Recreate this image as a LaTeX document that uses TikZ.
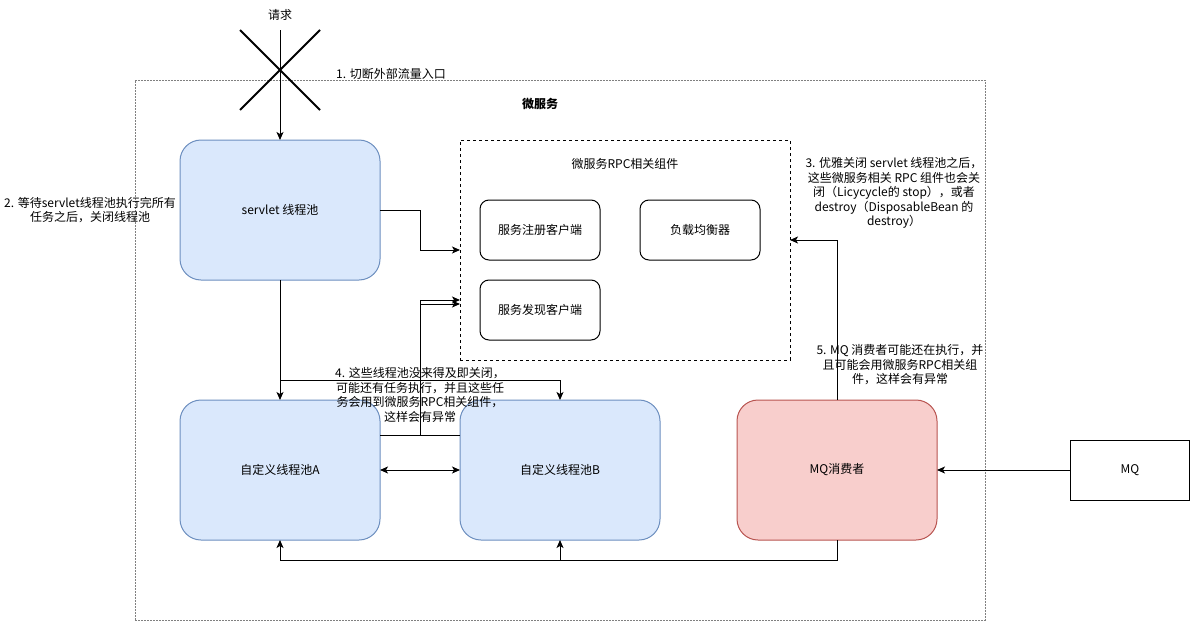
\documentclass[tikz,border=0pt]{standalone}
\usepackage{fontspec}
\setmainfont{Noto Sans CJK SC}
\usetikzlibrary{arrows.meta,positioning}
\definecolor{poolfill}{HTML}{DAE8FC}
\definecolor{pooldraw}{HTML}{6C8EBF}
\definecolor{mqfill}{HTML}{F8CECC}
\definecolor{mqdraw}{HTML}{B85450}

\begin{document}
\begin{tikzpicture}[x=1pt,y=-1pt,font=\fontsize{12}{14.5}\selectfont,
  pool/.style={draw=pooldraw,fill=poolfill,rounded corners=21pt,line width=1pt,
    minimum width=200pt,minimum height=140pt,outer sep=0pt},
  mqpool/.style={pool,draw=mqdraw,fill=mqfill},
  comp/.style={draw,rounded corners=9pt,line width=1pt,
    minimum width=120pt,minimum height=60pt,outer sep=0pt},
  note/.style={align=center,inner sep=0pt},
  arr/.style={line width=1pt,-{Stealth[length=8pt,width=7pt,inset=2pt]}},
  arrboth/.style={line width=1pt,{Stealth[length=8pt,width=7pt,inset=2pt]}-{Stealth[length=8pt,width=7pt,inset=2pt]}}]
  \useasboundingbox (0,0) rectangle (1191,621);

  %% outer service frame
  \node[draw=gray,dash pattern=on 2pt off 1pt,minimum width=850pt,minimum height=540pt,
    outer sep=0pt] (svc) at (560,350) {};
  \node[font=\fontsize{12}{14.5}\selectfont\bfseries] (svctitle) at (540,104) {微服务};

  %% incoming request, cut off
  \node (req) at (280,15) {请求};
  \coordinate (reqtop) at (280,30);
  \draw[line width=2pt] (240,30) -- (320,110);
  \draw[line width=2pt] (320,30) -- (240,110);
  \node[anchor=west,inner sep=0pt] (lbl1) at (336,74) {1. 切断外部流量入口};

  %% thread pools
  \node[pool] (servlet) at (280,210) {servlet 线程池};
  \node[pool] (poolA) at (280,470) {自定义线程池A};
  \node[pool] (poolB) at (560,470) {自定义线程池B};
  \node[mqpool] (consumer) at (837,470) {MQ消费者};
  \node[draw,line width=1pt,minimum width=119pt,minimum height=60pt,outer sep=0pt]
    (mq) at (1130,470) {MQ};

  %% RPC components
  \node[draw,dash pattern=on 3pt off 3pt,line width=1pt,minimum width=330pt,
    minimum height=220pt,outer sep=0pt] (rpc) at (625,250) {};
  \node (rpctitle) at (625,164) {微服务RPC相关组件};
  \node[comp] (reg) at (540,230) {服务注册客户端};
  \node[comp] (lb) at (700,230) {负载均衡器};
  \node[comp] (disc) at (540,310) {服务发现客户端};

  %% connectors
  \draw[arr] (reqtop) -- (servlet.north);
  \draw[arr] (servlet.east) -- ++(40,0) |- (rpc.west);
  \draw[arr] ([yshift=35pt]poolA.east) -- ++(40,0) |- ([yshift=-50pt]rpc.west);
  \draw[arr] ([yshift=35pt]poolB.west) -- ++(-40,0) |- ([yshift=-54pt]rpc.west);
  \draw[arr] (servlet.south) -- (poolA.north);
  \draw[arr] ([yshift=20pt]poolA.north) -| (poolB.north);
  \draw[arrboth] (poolA.east) -- (poolB.west);
  \draw[arr] (mq.west) -- (consumer.east);
  \draw[arr] (consumer.north) |- ([yshift=10pt]rpc.east);
  \draw[arr] (consumer.south) -- ++(0,20) -| (poolA.south);
  \draw[arr] (consumer.south) -- ++(0,20) -| (poolB.south);

  %% step notes
  \node[note] (lbl2) at (90,210) {2. 等待servlet线程池执行完所有\\任务之后，关闭线程池};
  \node[note] (lbl3) at (894,193) {3. 优雅关闭 servlet 线程池之后，\\这些微服务相关 RPC 组件也会关\\闭（Licycycle的 stop），或者\\destroy（DisposableBean 的\\destroy）};
  \node[note] (lbl4) at (420,395) {4. 这些线程池没来得及即关闭，\\可能还有任务执行，并且这些任\\务会用到微服务RPC相关组件，\\这样会有异常};
  \node[note] (lbl5) at (900,365) {5. MQ 消费者可能还在执行，并\\且可能会用微服务RPC相关组\\件，这样会有异常};
\end{tikzpicture}
\end{document}
